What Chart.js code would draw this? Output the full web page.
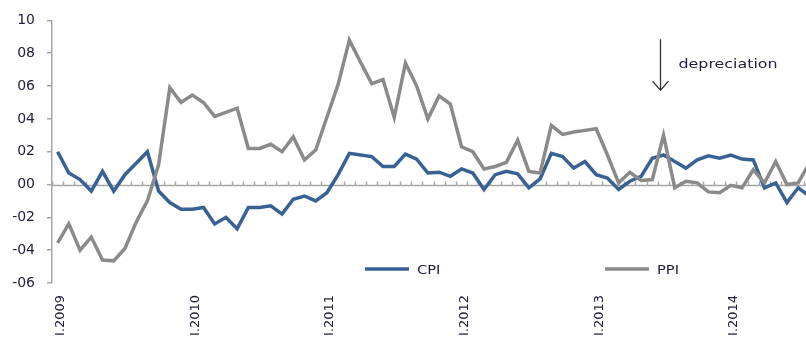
<!DOCTYPE html>
<html>
<head>
<meta charset="utf-8">
<script src="https://cdn.jsdelivr.net/npm/chart.js@4.4.1/dist/chart.umd.min.js"></script>
<style>
  html, body { margin: 0; padding: 0; background: #fff; overflow: hidden; }
  #wrap { position: absolute; left: 0; top: 0; width: 816px; height: 338px; }
</style>
</head>
<body>
<div id="wrap"><canvas id="chart" width="816" height="338"></canvas></div>
<script>
// monthly categories, Jan 2009 - Aug 2014
const YEARS = [2009, 2010, 2011, 2012, 2013, 2014];
const MONTHS = ['I', 'II', 'III', 'IV', 'V', 'VI', 'VII', 'VIII', 'IX', 'X', 'XI', 'XII'];
const LABELS = YEARS.flatMap(y => MONTHS.map(m => `${m}.${y}`)).slice(0, 68);

const CPI = [
  2.0, 0.7, 0.3, -0.4, 0.8, -0.4, 0.6, 1.3, 2.0, -0.4, -1.1, -1.5,
  -1.5, -1.4, -2.4, -2.0, -2.7, -1.4, -1.4, -1.3, -1.8, -0.9, -0.7, -1.0,
  -0.5, 0.6, 1.9, 1.8, 1.7, 1.1, 1.1, 1.85, 1.55, 0.7, 0.75, 0.5,
  0.95, 0.7, -0.3, 0.6, 0.8, 0.65, -0.2, 0.35, 1.9, 1.7, 1.0, 1.4,
  0.6, 0.4, -0.3, 0.2, 0.5, 1.6, 1.8, 1.4, 1.0, 1.5, 1.75, 1.6,
  1.8, 1.55, 1.5, -0.2, 0.1, -1.1, -0.2, -0.7
];

const PPI = [
  -3.55, -2.4, -4.0, -3.2, -4.6, -4.65, -3.9, -2.3, -1.0, 1.2, 5.9, 5.0,
  5.45, 5.0, 4.15, 4.4, 4.65, 2.2, 2.2, 2.45, 2.0, 2.9, 1.5, 2.1,
  4.1, 6.1, 8.8, 7.45, 6.15, 6.4, 4.1, 7.4, 6.0, 4.0, 5.4, 4.9,
  2.3, 2.0, 0.95, 1.1, 1.35, 2.7, 0.8, 0.7, 3.6, 3.05, 3.2, 3.3,
  3.4, 1.8, 0.1, 0.75, 0.25, 0.3, 3.0, -0.2, 0.2, 0.1, -0.45, -0.5,
  -0.05, -0.2, 0.9, 0.1, 1.4, 0.0, 0.1, 1.3
];

const SERIES_NAMES = ['CPI', 'PPI'];
const COLORS = { CPI: '#386194', PPI: '#8a8a8a' };
const AXIS_GRAY = '#a6a6a6';
const TEXT_COLOR = '#22223f';
const FONT = "'DejaVu Sans', Verdana, sans-serif";

// arrow note: where it points (category index) and its vertical span
const NOTE_TEXT = 'depreciation';
const NOTE_AT = 53.65;
const NOTE_FROM = 8.85;
const NOTE_TO = 5.75;

function fmtTick(v) {
  const s = String(Math.abs(v)).padStart(2, '0');
  return v < 0 ? '-' + s : s;
}

// wide, Excel-like text
function wideText(ctx, text, x, y, size) {
  ctx.save();
  ctx.font = `${size}px ${FONT}`;
  ctx.fillStyle = TEXT_COLOR;
  ctx.textBaseline = 'alphabetic';
  ctx.translate(x, y);
  ctx.scale(1.22, 1);
  ctx.fillText(text, 0, 0);
  ctx.restore();
}

// horizontal axis line at zero with month tick marks
const zeroAxis = {
  id: 'zeroAxis',
  beforeDatasetsDraw(chart) {
    const { ctx, chartArea, scales: { x, y } } = chart;
    const y0 = Math.round(y.getPixelForValue(0)) + 0.5;
    ctx.save();
    ctx.strokeStyle = AXIS_GRAY;
    ctx.lineWidth = 1.5;
    ctx.beginPath();
    ctx.moveTo(chartArea.left, y0);
    ctx.lineTo(chartArea.right, y0);
    for (let i = 0; i <= LABELS.length; i++) {
      const px = Math.round(x.getPixelForValue(i - 0.5)) + 0.5;
      ctx.moveTo(px, y0);
      ctx.lineTo(px, y0 - 4);
    }
    ctx.stroke();
    ctx.restore();
  }
};

// "depreciation" arrow plus the in-plot legend
const notes = {
  id: 'notes',
  afterDraw(chart) {
    const { ctx, scales: { x, y } } = chart;
    const ax = Math.round(x.getPixelForValue(NOTE_AT)) + 0.5;
    const top = y.getPixelForValue(NOTE_FROM);
    const tip = y.getPixelForValue(NOTE_TO);
    ctx.save();
    ctx.strokeStyle = '#333';
    ctx.lineWidth = 1.3;
    ctx.beginPath();
    ctx.moveTo(ax, top);
    ctx.lineTo(ax, tip);
    ctx.moveTo(ax - 8, tip - 9);
    ctx.lineTo(ax, tip);
    ctx.lineTo(ax + 8, tip - 9);
    ctx.stroke();
    ctx.restore();
    wideText(ctx, NOTE_TEXT, ax + 18, 68, 13);

    const legendY = 269;
    const slots = [365, 605];
    SERIES_NAMES.forEach((name, i) => {
      const lx = slots[i];
      ctx.save();
      ctx.strokeStyle = COLORS[name];
      ctx.lineWidth = 3.5;
      ctx.beginPath();
      ctx.moveTo(lx, legendY);
      ctx.lineTo(lx + 44, legendY);
      ctx.stroke();
      ctx.restore();
      wideText(ctx, name, lx + 52, legendY + 5, 12);
    });
  }
};

new Chart(document.getElementById('chart'), {
  type: 'line',
  data: {
    labels: LABELS,
    datasets: [
      {
        label: 'CPI',
        data: CPI,
        borderColor: COLORS.CPI,
        borderWidth: 3.5,
        pointRadius: 0,
        tension: 0,
        fill: false,
        order: 1,
      },
      {
        label: 'PPI',
        data: PPI,
        borderColor: COLORS.PPI,
        borderWidth: 3.5,
        pointRadius: 0,
        tension: 0,
        fill: false,
        order: 0,
      }
    ]
  },
  options: {
    responsive: false,
    animation: false,
    layout: { padding: { top: 18, right: 1, bottom: 0, left: 0 } },
    plugins: {
      legend: { display: false },
      tooltip: { enabled: false },
      title: { display: false },
    },
    scales: {
      x: {
        offset: true,
        grid: { display: false, drawTicks: false },
        border: { display: false },
        ticks: {
          autoSkip: false,
          minRotation: 90,
          maxRotation: 90,
          padding: 12,
          labelOffset: 3,
          color: TEXT_COLOR,
          font: { family: FONT, size: 13 },
          callback: (v, i) => (i % 12 === 0 ? LABELS[i] : ''),
        },
        afterFit: s => {
          s.height = 55;
          // rotated labels would otherwise shrink the plot width
          s.paddingLeft = 0;
          s.paddingRight = 0;
        },
      },
      y: {
        min: -6,
        max: 10,
        ticks: {
          stepSize: 2,
          padding: 12,
          color: TEXT_COLOR,
          font: { family: FONT, size: 14 },
          callback: fmtTick,
        },
        grid: {
          drawOnChartArea: false,
          drawTicks: true,
          tickLength: 5,
          color: AXIS_GRAY,
          lineWidth: 1.5,
        },
        border: { color: AXIS_GRAY, width: 1.5 },
        afterFit: s => { s.width = 52; },
      }
    }
  },
  plugins: [zeroAxis, notes]
});
</script>
</body>
</html>
